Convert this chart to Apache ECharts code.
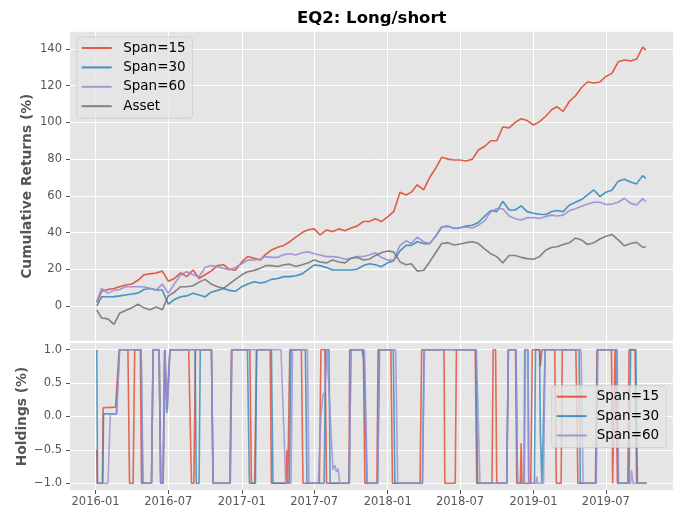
<!DOCTYPE html>
<html lang="en">
<head>
<meta charset="utf-8">
<title>EQ2: Long/short</title>
<script src="https://cdn.jsdelivr.net/npm/echarts@6.0.0/dist/echarts.min.js"></script>
<style>
    html, body { margin: 0; padding: 0; background: #fff; }
    #main { width: 681px; height: 513px; }
</style>
</head>
<body>
<div id="main"></div>
<script>
// cumulative returns, read twice a month
var retDates = [
    '2016-01-04','2016-01-16','2016-02-01','2016-02-16','2016-03-01','2016-03-16','2016-04-01','2016-04-16','2016-05-01','2016-05-16','2016-06-01','2016-06-16',
    '2016-07-01','2016-07-16','2016-08-01','2016-08-16','2016-09-01','2016-09-16','2016-10-01','2016-10-16','2016-11-01','2016-11-16','2016-12-01','2016-12-16',
    '2017-01-01','2017-01-16','2017-02-01','2017-02-16','2017-03-01','2017-03-16','2017-04-01','2017-04-16','2017-05-01','2017-05-16','2017-06-01','2017-06-16',
    '2017-07-01','2017-07-16','2017-08-01','2017-08-16','2017-09-01','2017-09-16','2017-10-01','2017-10-16','2017-11-01','2017-11-16','2017-12-01','2017-12-16',
    '2018-01-01','2018-01-16','2018-02-01','2018-02-16','2018-03-01','2018-03-16','2018-04-01','2018-04-16','2018-05-01','2018-05-16','2018-06-01','2018-06-16',
    '2018-07-01','2018-07-16','2018-08-01','2018-08-16','2018-09-01','2018-09-16','2018-10-01','2018-10-16','2018-11-01','2018-11-16','2018-12-01','2018-12-16',
    '2019-01-01','2019-01-16','2019-02-01','2019-02-16','2019-03-01','2019-03-16','2019-04-01','2019-04-16','2019-05-01','2019-05-16','2019-06-01','2019-06-16',
    '2019-07-01','2019-07-16','2019-08-01','2019-08-16','2019-09-01','2019-09-16','2019-10-01','2019-10-09'
]
var span15 = [
    2, 8, 9, 9.5, 10.5, 11.4, 12, 14, 17, 17.5, 18, 19, 13.5, 15, 18, 16, 19.6, 15, 17, 19, 22, 22.5, 20, 19.5,
    24, 27, 26, 25, 28, 30.5, 32, 33, 35, 37.5, 40, 41.5, 42, 38.7, 41.4, 40.5, 42, 41, 42.5, 43.5, 46, 46, 47.5, 46,
    48.6, 51.4, 62, 60.5, 62, 66, 63.2, 70, 75, 81, 80, 79.5, 79.5, 79, 80, 85, 87, 90, 90, 97.5, 97, 100, 102, 101,
    98.6, 100.4, 103.5, 107, 108.5, 106, 111.5, 114.5, 119, 122, 121.5, 122, 125, 126.7, 133, 134, 133.5, 134.5, 141, 139.4
]
var span30 = [
    0, 5, 5, 5.1, 5.5, 6, 6.5, 7, 9, 9.5, 8.7, 8.7, 1, 3.5, 5, 5.5, 6.9, 6, 5, 7.5, 8.5, 9.6, 8.5, 8,
    10.5, 12, 13.2, 12.5, 13, 14.5, 15, 16, 16, 16.5, 17.5, 20, 22.3, 22, 21, 19.6, 19.6, 19.6, 19.6, 20, 22, 23, 22.5, 21.4,
    23.5, 24.6, 30, 33, 33, 35, 34, 34, 38, 43, 43.5, 42.3, 42.5, 43.5, 44, 45.5, 49, 52, 51.4, 57, 52.3, 52.3, 54.5, 51.4,
    50.5, 50, 49.8, 51.5, 52, 51.4, 55, 56.5, 58, 60.5, 63.2, 59.6, 62, 63, 68, 69, 67.5, 66.5, 71, 69.5
]
var span60 = [
    2.4, 9.6, 7, 8.5, 9, 10.5, 10.5, 10.5, 10.5, 9.6, 8.7, 12, 7, 12, 17, 18.7, 17, 16, 21, 22, 21.4, 20.5, 19.8, 21,
    23, 25, 25.1, 25.5, 26.9, 26.5, 26.5, 28, 28.5, 27.8, 29, 29.5, 28.5, 27.8, 26.9, 26.9, 26.5, 25.5, 26, 26.9, 27, 27.8, 29, 26.5,
    25, 25.1, 33, 35.5, 34, 37.5, 35, 34, 38, 43, 43.5, 42.3, 42.8, 43, 42.5, 44, 46.5, 51.5, 53, 53, 49, 47.5, 46.8, 48,
    48.2, 47.7, 48.8, 49.5, 49, 49.5, 52, 53, 54.3, 55.5, 56.5, 56.5, 55.3, 55.5, 56.5, 58.7, 55.9, 55, 58.5, 56.8
]
var asset = [
    -2.2, -6.5, -7, -10, -4, -2.5, -1, 1, -1, -2, -0.5, -2, 5.5, 7.5, 10.5, 10.5, 11, 13, 14.5, 12, 10.5, 9.6, 12, 14.5,
    17, 18.7, 19.4, 20.5, 22, 22, 21.5, 22.5, 22.8, 21.5, 22.5, 23.5, 25.1, 24, 23.5, 25, 24, 23.5, 26, 26.5, 25.1, 25.5, 27.5, 29,
    30, 29.5, 24, 22.5, 23, 19, 19.5, 24, 29, 34, 34.5, 33.2, 33.8, 34.5, 35, 34, 31, 28.5, 26.9, 23.5, 27.5, 27.5, 26.5, 25.8,
    25.5, 26.9, 30.5, 32, 32.3, 33.5, 34.5, 37, 36, 33.5, 34.5, 36.5, 38, 39, 36, 32.8, 34, 34.7, 32, 32.3
]

// holdings: [date, position] at each switch
var hold15 = [
    ['2016-01-04', -0.5], ['2016-01-05', -1], ['2016-01-18', -1], ['2016-01-20', 0.13], ['2016-02-20', 0.14], ['2016-02-29', 1],
    ['2016-03-22', 1], ['2016-03-26', -1], ['2016-04-04', -1], ['2016-04-08', 1], ['2016-04-22', 1], ['2016-04-25', -1],
    ['2016-05-20', -1], ['2016-05-24', 1], ['2016-06-08', 1], ['2016-06-12', -1], ['2016-06-18', -1], ['2016-06-22', 1],
    ['2016-06-28', 0.1], ['2016-07-05', 1], ['2016-08-21', 1], ['2016-08-28', -1], ['2016-09-03', -1], ['2016-09-07', 1],
    ['2016-10-17', 1], ['2016-10-21', -1], ['2016-12-02', -1], ['2016-12-06', 1], ['2017-01-21', 1], ['2017-01-25', -1],
    ['2017-02-02', -1], ['2017-02-07', 1], ['2017-03-13', 1], ['2017-03-16', -1], ['2017-04-21', -1], ['2017-04-24', -0.5],
    ['2017-04-26', -1], ['2017-04-27', -1], ['2017-05-01', 1], ['2017-05-30', 1], ['2017-06-03', -1], ['2017-07-14', -1],
    ['2017-07-18', 1], ['2017-07-28', 1], ['2017-08-01', -1], ['2017-09-26', -1], ['2017-09-28', 1], ['2017-11-01', 1],
    ['2017-11-05', -1], ['2017-12-05', -1], ['2017-12-08', 1], ['2018-01-09', 1], ['2018-01-13', -1], ['2018-03-23', -1],
    ['2018-03-27', 1], ['2018-05-22', 1], ['2018-05-24', -1], ['2018-06-19', -1], ['2018-06-22', 1], ['2018-08-08', 1],
    ['2018-08-12', -1], ['2018-09-19', -1], ['2018-09-22', 1], ['2018-09-28', 1], ['2018-10-01', -1], ['2018-10-26', -1],
    ['2018-10-30', 1], ['2018-11-17', 1], ['2018-11-20', -1], ['2018-11-29', -1], ['2018-12-01', -0.4], ['2018-12-03', -1],
    ['2018-12-25', -1], ['2018-12-29', 1], ['2019-01-16', 1], ['2019-01-18', 0.75], ['2019-01-22', 1], ['2019-02-23', 1],
    ['2019-02-27', -1], ['2019-03-11', -1], ['2019-03-14', 1], ['2019-04-17', 1], ['2019-04-22', -1], ['2019-06-05', -1],
    ['2019-06-09', 1], ['2019-07-15', 1], ['2019-07-18', -1], ['2019-07-22', -1], ['2019-07-24', 1], ['2019-07-28', 1],
    ['2019-07-30', -1], ['2019-08-25', -1], ['2019-08-28', 1], ['2019-09-12', 1], ['2019-09-16', -1], ['2019-10-11', -1]
]
var hold30 = [
    ['2016-01-04', 1], ['2016-01-06', -1], ['2016-01-19', -1], ['2016-01-21', 0.04], ['2016-02-22', 0.04], ['2016-03-01', 1],
    ['2016-04-24', 1], ['2016-04-28', -1], ['2016-05-20', -1], ['2016-05-24', 1], ['2016-06-08', 1], ['2016-06-12', -1],
    ['2016-06-18', -1], ['2016-06-22', 1], ['2016-06-23', 1], ['2016-06-27', 0.05], ['2016-06-30', 0.05], ['2016-07-05', 1],
    ['2016-09-06', 1], ['2016-09-09', -1], ['2016-09-16', -1], ['2016-09-19', 1], ['2016-10-17', 1], ['2016-10-21', -1],
    ['2016-12-03', -1], ['2016-12-07', 1], ['2017-01-15', 1], ['2017-01-20', -1], ['2017-02-04', -1], ['2017-02-07', 1],
    ['2017-03-16', 1], ['2017-03-20', -1], ['2017-04-30', -1], ['2017-05-04', 1], ['2017-06-09', 1], ['2017-06-13', -1],
    ['2017-07-26', -1], ['2017-07-30', 1], ['2017-08-07', 1], ['2017-08-10', -1], ['2017-09-27', -1], ['2017-10-01', 1],
    ['2017-10-28', 1], ['2017-11-03', 0.85], ['2017-11-10', -1], ['2017-12-07', -1], ['2017-12-11', 1], ['2018-01-15', 1],
    ['2018-01-19', -1], ['2018-03-29', -1], ['2018-04-02', 1], ['2018-08-10', 1], ['2018-08-14', -1], ['2018-10-26', -1],
    ['2018-10-30', 1], ['2018-11-18', 1], ['2018-11-22', -1], ['2018-12-08', -1], ['2018-12-10', 1], ['2018-12-18', 1],
    ['2018-12-20', -1], ['2019-01-03', -1], ['2019-01-06', 1], ['2019-01-16', 1], ['2019-01-18', -0.25], ['2019-01-22', -1],
    ['2019-01-26', -1], ['2019-01-30', 1], ['2019-04-25', 1], ['2019-04-28', -1], ['2019-06-06', -1], ['2019-06-10', 1],
    ['2019-07-28', 1], ['2019-08-01', -1], ['2019-08-28', -1], ['2019-09-01', 1], ['2019-09-14', 1], ['2019-09-18', -1],
    ['2019-10-11', -1]
]
var hold60 = [
    ['2016-01-04', -1], ['2016-02-01', -1], ['2016-02-07', 0.04], ['2016-02-23', 0.04], ['2016-03-01', 1], ['2016-04-24', 1],
    ['2016-04-29', -1], ['2016-05-20', -1], ['2016-05-24', 1], ['2016-06-08', 1], ['2016-06-12', -1], ['2016-06-18', -1],
    ['2016-06-22', 1], ['2016-06-29', 0.1], ['2016-07-05', 1], ['2016-10-17', 1], ['2016-10-21', -1], ['2016-12-03', -1],
    ['2016-12-07', 1], ['2017-04-09', 1], ['2017-04-21', -1], ['2017-05-04', -1], ['2017-05-08', 1], ['2017-06-14', 1],
    ['2017-06-18', -1], ['2017-07-11', -1], ['2017-07-18', 0], ['2017-07-23', 0.32], ['2017-07-28', 0.37], ['2017-08-02', 1],
    ['2017-08-05', 1], ['2017-08-17', -0.8], ['2017-08-22', -0.73], ['2017-08-26', -0.83], ['2017-08-30', -0.78], ['2017-09-03', -1],
    ['2017-09-27', -1], ['2017-10-01', 1], ['2017-11-04', 1], ['2017-11-11', -1], ['2017-12-07', -1], ['2017-12-12', 1],
    ['2018-01-21', 1], ['2018-01-26', -1], ['2018-03-29', -1], ['2018-04-03', 1], ['2018-08-11', 1], ['2018-08-20', -1],
    ['2018-10-26', -1], ['2018-10-30', 1], ['2018-11-18', 1], ['2018-11-22', -1], ['2018-12-09', -1], ['2018-12-12', 1],
    ['2018-12-18', 1], ['2018-12-20', -1], ['2019-01-07', -1], ['2019-01-09', -0.9], ['2019-01-11', -1], ['2019-01-26', -1],
    ['2019-01-30', 1], ['2019-04-30', 1], ['2019-05-05', -1], ['2019-06-07', -1], ['2019-06-11', 1], ['2019-07-29', 1],
    ['2019-08-02', -1], ['2019-09-01', -1], ['2019-09-03', -0.8], ['2019-09-07', -1], ['2019-10-11', -1]
]

var xTicks = ['2016-01-01', '2016-07-01', '2017-01-01', '2017-07-01', '2018-01-01', '2018-07-01', '2019-01-01', '2019-07-01']
var retTicks = [0, 20, 40, 60, 80, 100, 120, 140]
var holdTicks = [-1, -0.5, 0, 0.5, 1]

var colors = ['#E24A33', '#348ABD', '#988ED5', '#777777']
var font = 'DejaVu Sans'
var tickGray = '#555555'

// 'YYYY-MM-DD' -> timestamp, local time
var ts = function(s) {
    var p = s.split('-')
    return new Date(+p[0], +p[1] - 1, +p[2]).getTime()
}

var pairs = function(dates, vals) {
    return dates.map(function(d, i) { return [ts(d), vals[i]] })
}

var holdData = function(list) {
    return list.map(function(p) { return [ts(p[0]), p[1]] })
}

var lineSeries = function(name, data, color, axis, opacity) {
    return {
        name: name,
        type: 'line',
        xAxisIndex: axis,
        yAxisIndex: axis,
        data: data,
        symbol: 'none',
        showSymbol: false,
        lineStyle: { color: color, width: 1.6, opacity: opacity },
        itemStyle: { color: color },
        emphasis: { disabled: true },
    }
}

var xAxis = function(grid, labels) {
    var ticks = xTicks.map(ts)
    return {
        type: 'value',
        gridIndex: grid,
        min: ts('2015-10-29'),
        max: ts('2019-12-16'),
        axisLine: { show: false, onZero: false },
        axisTick: { show: labels, customValues: ticks, length: 4, lineStyle: { color: tickGray } },
        axisLabel: {
            show: labels,
            customValues: ticks,
            color: tickGray,
            fontFamily: font,
            fontSize: 11.5,
            margin: 6,
            formatter: function(v) {
                var d = new Date(v)
                return d.getFullYear() + '-' + ('0' + (d.getMonth() + 1)).slice(-2)
            },
        },
        splitLine: { show: true, lineStyle: { color: '#ffffff', width: 1 } },
    }
}

var yAxis = function(grid, min, max, ticks, name, gap, fmt) {
    return {
        type: 'value',
        gridIndex: grid,
        min: min,
        max: max,
        name: name,
        nameLocation: 'middle',
        nameRotate: 90,
        nameGap: gap,
        nameMoveOverlap: false,
        nameTextStyle: { color: tickGray, fontFamily: font, fontSize: 13.8, fontWeight: 'bold' },
        axisLine: { show: false, onZero: false },
        axisTick: { show: true, customValues: ticks, length: 4, lineStyle: { color: tickGray } },
        axisLabel: { customValues: ticks, color: tickGray, fontFamily: font, fontSize: 11.5, margin: 8, formatter: fmt },
        splitLine: { show: true, lineStyle: { color: '#ffffff', width: 1 } },
    }
}

var legend = function(left, top, names, textPad) {
    return {
        orient: 'vertical',
        left: left,
        top: top,
        data: names,
        itemWidth: 30,
        itemHeight: 14,
        itemGap: 5.4,
        padding: [4, 7, 5, 4],
        backgroundColor: 'rgba(229,229,229,0.8)',
        borderColor: 'rgba(204,204,204,0.8)',
        borderWidth: 1,
        borderRadius: 3,
        selectedMode: false,
        // hide the marker circle, keep the line
        itemStyle: { opacity: 0 },
        textStyle: { color: '#000', fontFamily: font, fontSize: 13.5, padding: [0, 0, 0, textPad] },
    }
}

var element = document.querySelector('#main')
var myChart = echarts.init(element)

var option = {
    animation: false,
    textStyle: { fontFamily: font },
    title: {
        text: 'EQ2: Long/short',
        left: 297,
        top: 10,
        padding: 0,
        textStyle: { color: '#000', fontFamily: font, fontSize: 16.5, fontWeight: 'bold' },
    },
    legend: [
        legend(76.7, 37, ['Span=15', 'Span=30', 'Span=60', 'Asset'], 6.5),
        legend(551.7, 385.7, ['Span=15', 'Span=30', 'Span=60'], 5),
    ],
    grid: [
        { left: 70, right: 8, top: 31.7, height: 309, show: true, backgroundColor: '#E5E5E5', borderWidth: 0, outerBoundsMode: 'none' },
        { left: 70, right: 8, top: 343, height: 147, show: true, backgroundColor: '#E5E5E5', borderWidth: 0, outerBoundsMode: 'none' },
    ],
    xAxis: [xAxis(0, false), xAxis(1, true)],
    yAxis: [
        yAxis(0, -18.9, 149.4, retTicks, 'Cumulative Returns (%)', 36, function(v) { return String(v) }),
        yAxis(1, -1.1, 1.1, holdTicks, 'Holdings (%)', 41, function(v) { return v.toFixed(1).replace('-', '\u2212') }),
    ],
    series: [
        lineSeries('Span=15', pairs(retDates, span15), colors[0], 0, 0.9),
        lineSeries('Span=30', pairs(retDates, span30), colors[1], 0, 0.9),
        lineSeries('Span=60', pairs(retDates, span60), colors[2], 0, 0.9),
        lineSeries('Asset', pairs(retDates, asset), colors[3], 0, 0.9),
        lineSeries('Span=15', holdData(hold15), colors[0], 1, 0.8),
        lineSeries('Span=30', holdData(hold30), colors[1], 1, 0.8),
        lineSeries('Span=60', holdData(hold60), colors[2], 1, 0.8),
    ],
}

myChart.setOption(option)
</script>
</body>
</html>
